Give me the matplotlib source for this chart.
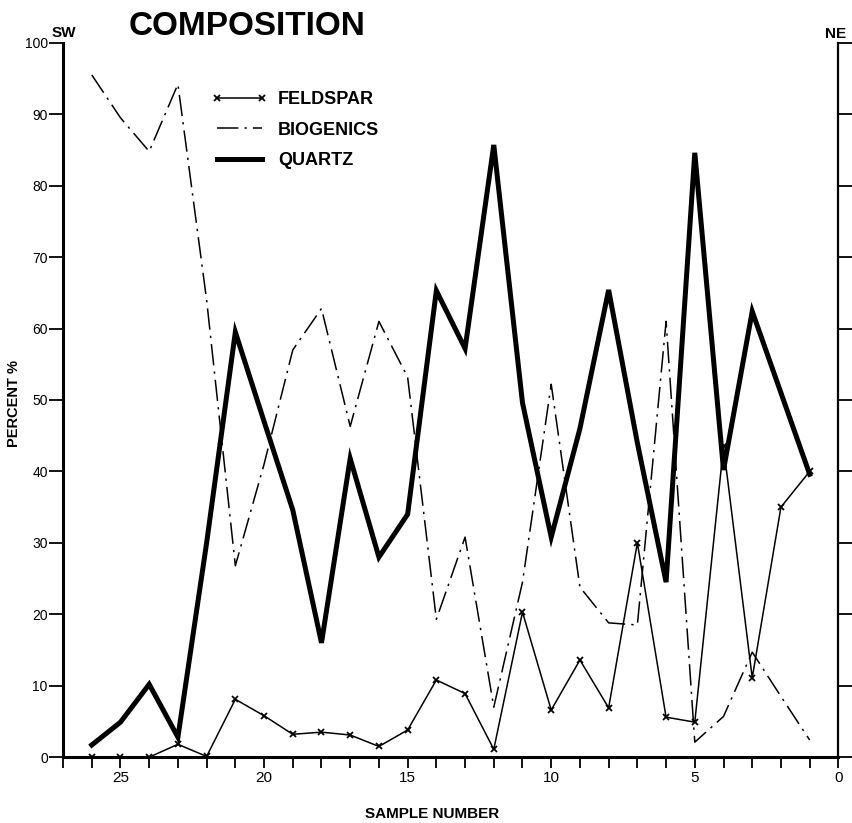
import matplotlib.pyplot as plt

# ============================================================================
# DATA
# ============================================================================
samples = [26, 25, 24, 23, 22, 21, 20, 19, 18, 17, 16, 15, 14,
           13, 12, 11, 10, 9, 8, 7, 6, 5, 4, 3, 2, 1]
feldspar = [0, 0, 0, 1.8, 0.1, 8.1, 5.8, 3.2, 3.5, 3.1, 1.5, 3.8, 10.8,
            8.9, 1.1, 20.3, 6.6, 13.6, 6.9, 30.0, 5.6, 4.9, 43.5, 11.1, 35.0, 40.0]
biogenics = [95.5, 89.5, 84.8, 94.2, 64, 26.8, 41, 57, 62.8, 46.3, 61, 53.2, 19.3,
             30.8, 7.0, 24.5, 52.2, 23.8, 18.8, 18.5, 61, 2.1, 5.7, 14.7, 8.5, 2.4]
quartz = [1.7, 4.9, 10.2, 2.8, 30, 59.5, 47, 34.6, 16.0, 41.8, 28.0, 34.0, 65.3,
          57.2, 85.7, 49.6, 30.8, 46, 65.4, 44, 24.5, 84.6, 40.2, 62.4, 51, 39.6]

x_major = [0, 5, 10, 15, 20, 25]
y_major = [0, 10, 20, 30, 40, 50, 60, 70, 80, 90, 100]

INK = '#000000'
FONT = 'Liberation Sans'

# ============================================================================
# FIGURE
# ============================================================================
fig = plt.figure(figsize=(8.52, 8.23), dpi=100)
ax = fig.add_axes([0.074, 0.080, 0.910, 0.868])

ax.plot(samples, feldspar, color=INK, lw=1.1, marker='x', ms=5, mew=1.3,
        label='FELDSPAR', zorder=3)
ax.plot(samples, biogenics, color=INK, lw=1.1, ls=(0, (14, 4, 1.5, 4)),
        label='BIOGENICS', zorder=2)
ax.plot(samples, quartz, color=INK, lw=3.6, solid_joinstyle='miter',
        label='QUARTZ', zorder=4)

ax.set_xlim(27, 0)
ax.set_ylim(0, 100)

# ============================================================================
# AXES
# ============================================================================
ax.spines['top'].set_visible(False)
ax.spines['left'].set_linewidth(2.2)
ax.spines['bottom'].set_linewidth(2.2)
ax.spines['right'].set_linewidth(1.6)

ax.set_xticks(x_major)
ax.set_xticks(range(0, 28), minor=True)
ax.set_yticks(y_major)
ax.set_yticklabels([str(v) for v in y_major])

ax.tick_params(axis='x', which='both', direction='out', length=8, width=1.3,
               labelsize=11, pad=2)
ax.tick_params(axis='y', which='major', direction='out', length=10, width=1.3,
               labelsize=10, left=True, right=True, labelright=False, pad=1)
for lab in ax.get_xticklabels() + ax.get_yticklabels():
    lab.set_fontfamily(FONT)

# ============================================================================
# TEXT
# ============================================================================
fig.text(0.290, 0.9575, 'COMPOSITION', fontsize=24, fontweight='bold',
         family=FONT, ha='center', va='baseline')
fig.text(0.075, 0.955, 'SW', fontsize=11, fontweight='bold', family=FONT,
         ha='center', va='baseline')
fig.text(0.981, 0.954, 'NE', fontsize=11, fontweight='bold', family=FONT,
         ha='center', va='baseline')
fig.text(0.017, 0.51, 'PERCENT %', fontsize=10.5, fontweight='bold', family=FONT,
         rotation=90, ha='center', va='center')
fig.text(0.507, 0.003, 'SAMPLE NUMBER', fontsize=11, fontweight='bold', family=FONT,
         ha='center', va='bottom')

# ============================================================================
# LEGEND
# ============================================================================
handles, labels = ax.get_legend_handles_labels()
leg = ax.legend(handles, labels, loc='upper left', bbox_to_anchor=(0.229, 0.909),
                bbox_transform=fig.transFigure, frameon=False, numpoints=2,
                handlelength=3.1, handletextpad=0.6, labelspacing=0.75,
                prop={'family': FONT, 'weight': 'bold', 'size': 13})

fig.savefig('out.png', dpi=100, facecolor='white')
